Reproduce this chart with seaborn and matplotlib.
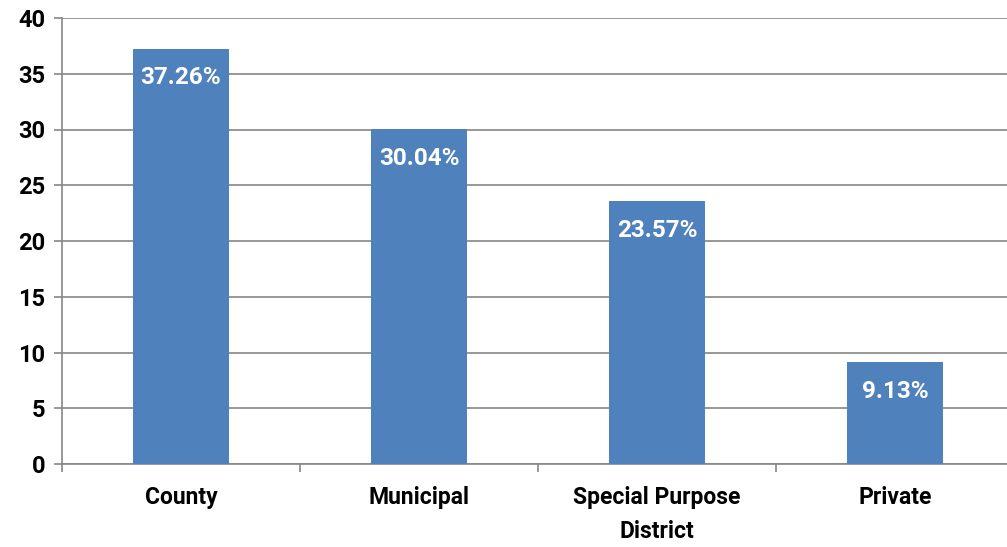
import matplotlib
matplotlib.use('Agg')
import matplotlib.pyplot as plt
import seaborn as sb
import pandas as pd

# data
categories = ['County', 'Municipal', 'Special Purpose\nDistrict', 'Private']
values = [37.26, 30.04, 23.57, 9.13]
labels = ['37.26%', '30.04%', '23.57%', '9.13%']

sb.set_style("white")
plt.rcParams['font.family'] = ['Roboto', 'DejaVu Sans']
plt.rcParams['font.weight'] = 'bold'

data = pd.DataFrame({'type': categories, 'pct': values})

fig = plt.figure(figsize=(10.07, 5.47), dpi=100)
ax = fig.add_axes([62 / 1007, 83 / 547, 1 - 62 / 1007, 446 / 547])

sb.barplot(data, x='type', y='pct', color='#4F81BD', saturation=1,
           width=0.4, ax=ax, zorder=3, linewidth=0)

# labels inside the bars
for i, (v, lab) in enumerate(zip(values, labels)):
    ax.annotate(lab, (i, v), xytext=(0, -21), textcoords='offset points',
                ha='center', va='center', color='white',
                fontsize=17.5, fontweight='bold')

ax.set_ylim(0, 40)
ax.set_yticks(range(0, 41, 5))
ax.set_xlim(-0.5, 3.5 - 7 / 238)
ax.set_xlabel('')
ax.set_ylabel('')

# grid and spines
ax.yaxis.grid(True, color='#868686', linewidth=1.2, zorder=0)
ax.set_axisbelow(True)
for s in ['top', 'right']:
    ax.spines[s].set_visible(False)
ax.spines['left'].set_color('#868686')
ax.spines['left'].set_linewidth(1.2)
ax.spines['bottom'].set_color('#868686')
ax.spines['bottom'].set_linewidth(1.2)

ax.tick_params(axis='y', which='major', length=6, width=1.2, color='#868686',
               labelsize=17, pad=6, direction='out', left=True, labelcolor='black')
ax.set_xticks([-0.5, 0.5, 1.5, 2.5], minor=True)
ax.tick_params(axis='x', which='minor', length=6, width=1.2, color='#868686',
               direction='out', bottom=True)
ax.tick_params(axis='x', which='major', length=0, labelsize=16.5, pad=16,
               labelcolor='black')
for t in ax.get_xticklabels() + ax.get_yticklabels():
    t.set_fontweight('bold')
for t in ax.get_xticklabels():
    t.set_linespacing(1.6)

plt.savefig('out.png', dpi=100)
